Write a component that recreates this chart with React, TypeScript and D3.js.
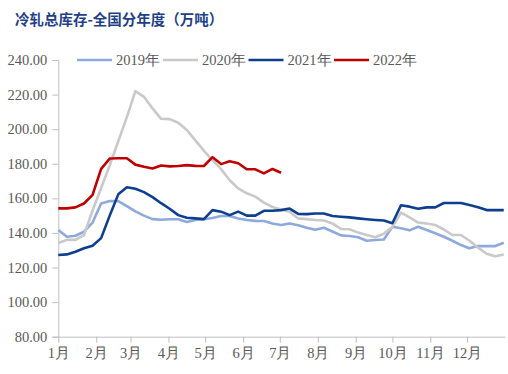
import React, { useEffect, useRef } from 'react';
import * as d3 from 'd3';

// weekly inventory, 万吨 (week 0 = Jan 1)
const y2019 = [
  141.7, 137.8, 138.4, 140.7, 146, 157, 158.5, 158.4, 155.5, 152.5,
  150, 148, 147.6, 147.9, 147.9, 146.3, 147.5, 147.9, 148.6, 149.8,
  149.8, 148.4, 147.5, 147, 146.9, 145.5, 144.6, 145.5, 144.5, 143,
  141.8, 143, 140.8, 138.6, 138.2, 137.5, 135.5, 135.9, 136.2, 143.6,
  142.7, 141.5, 143.6, 141.7, 139.8, 137.8, 135.5, 133, 131.1, 132.4,
  132.4, 132.4, 134.3,
];
const y2020 = [
  134.2, 136, 136, 138.8, 153, 166, 179, 193, 207, 222,
  218.7, 212, 206, 205.8, 203.7, 199.5, 193.5, 187.5, 182, 177,
  170.5, 165.8, 162.9, 161, 157.5, 155, 153.6, 152.3, 148.4, 148,
  147.5, 147.2, 145.5, 142.3, 142.1, 140.2, 138.8, 137.5, 139.5, 143.5,
  151.7, 149, 146, 145.5, 144.6, 142, 138.8, 138.8, 135.5, 131.5,
  128, 126.5, 127.5,
];
const y2021 = [
  127.2, 127.6, 129.1, 131.1, 132.6, 137, 150, 162.3, 166.4, 165.5,
  163.6, 160.7, 157.2, 154, 150.3, 148.8, 148.4, 148, 153.2, 152.3,
  150.3, 152.3, 150, 150, 152.8, 152.8, 153.2, 154.1, 151, 150.9,
  151.2, 151.2, 149.8, 149.4, 149, 148.4, 147.9, 147.5, 147.2, 145.6,
  156, 155.2, 154, 154.8, 154.8, 157.3, 157.3, 157.3, 156.1, 154.8,
  153.2, 153.2, 153.2,
];
const y2022 = [
  154.2, 154.2, 154.8, 157, 162, 177, 183, 183.2, 183.2, 179.5,
  178.3, 177.3, 179, 178.5, 178.7, 179.2, 178.8, 178.7, 183.8, 179.8,
  181.5, 180.3, 176.8, 176.8, 174.4, 177, 174.8,
];

const seriesNames = ['2019年', '2020年', '2021年', '2022年'];
const seriesData = [y2019, y2020, y2021, y2022];
const seriesColors = ['#8EA9DB', '#C9C9C9', '#0E3F8F', '#C00000'];
const yTicks = [80, 100, 120, 140, 160, 180, 200, 220, 240];

const App = () => {
  const ref = useRef<SVGSVGElement>(null);

  useEffect(() => {
    const width = 508;
    const height = 374;
    const margin = { top: 60, right: 3, bottom: 37.3, left: 58.3 };
    const font = '"Liberation Serif", "Times New Roman", serif';
    const textColor = '#595959';
    const axisColor = '#BFBFBF';

    const svg = d3.select(ref.current);
    svg.selectAll('*').remove();
    svg.attr('width', width).attr('height', height);

    const start = new Date(2021, 0, 1);
    const end = new Date(2022, 0, 1);

    const x = d3
      .scaleTime()
      .domain([start, end])
      .range([margin.left, width - margin.right]);
    const y = d3
      .scaleLinear()
      .domain([80, 240])
      .range([height - margin.bottom, margin.top]);

    // title
    svg
      .append('text')
      .attr('x', 15)
      .attr('y', 25)
      .attr('font-family', '"Noto Sans CJK SC", sans-serif')
      .attr('font-weight', 'bold')
      .attr('font-size', 14.5)
      .attr('fill', '#1F3F86')
      .text('冷轧总库存-全国分年度（万吨）');

    // y axis
    const yAxis = svg
      .append('g')
      .attr('transform', `translate(${margin.left},0)`)
      .call(
        d3
          .axisLeft(y)
          .tickValues(yTicks)
          .tickSize(6)
          .tickPadding(5)
          .tickFormat((d) => d3.format('.2f')(d as number))
      );
    yAxis.select('.domain').attr('stroke', axisColor);
    yAxis.selectAll('.tick line').attr('stroke', axisColor);
    yAxis
      .selectAll('.tick text')
      .attr('font-family', font)
      .attr('font-size', 14.5)
      .attr('fill', textColor);

    // x axis
    const xAxis = svg
      .append('g')
      .attr('transform', `translate(0,${y(80)})`)
      .call(
        d3
          .axisBottom(x)
          .ticks(d3.timeMonth.every(1))
          .tickSize(6)
          .tickPadding(5)
          .tickSizeOuter(0)
          .tickFormat((d) => `${(d as Date).getMonth() + 1}月`)
      );
    xAxis.select('.domain').attr('stroke', axisColor);
    xAxis.selectAll('.tick line').attr('stroke', axisColor);
    xAxis
      .selectAll('.tick text')
      .attr('font-family', font)
      .attr('font-size', 14.5)
      .attr('fill', textColor);
    // no label for the next-year January
    xAxis
      .selectAll('.tick')
      .filter((d) => (d as Date).getFullYear() > 2021)
      .remove();

    // lines
    const line = d3
      .line<number>()
      .x((d, i) => x(d3.timeDay.offset(start, i * 7)))
      .y((d) => y(d));

    seriesData.forEach((values, k) => {
      svg
        .append('path')
        .datum(values)
        .attr('fill', 'none')
        .attr('stroke', seriesColors[k])
        .attr('stroke-width', 2.6)
        .attr('stroke-linejoin', 'round')
        .attr('d', line);
    });

    // legend
    const legend = svg.append('g').attr('transform', 'translate(77,60)');
    const legendStep = [0, 86, 171.5, 257];
    seriesNames.forEach((name, k) => {
      const g = legend.append('g').attr('transform', `translate(${legendStep[k]},0)`);
      g.append('line')
        .attr('x1', 0)
        .attr('x2', 35)
        .attr('stroke', seriesColors[k])
        .attr('stroke-width', 2.6);
      g.append('text')
        .attr('x', 39)
        .attr('y', 5)
        .attr('font-family', font)
        .attr('font-size', 14.5)
        .attr('fill', textColor)
        .text(name);
    });
  }, []);

  return (
    <svg
      ref={ref}
      style={{ position: 'absolute', left: 0, top: 0, background: '#fff' }}
    />
  );
};

export default App;
